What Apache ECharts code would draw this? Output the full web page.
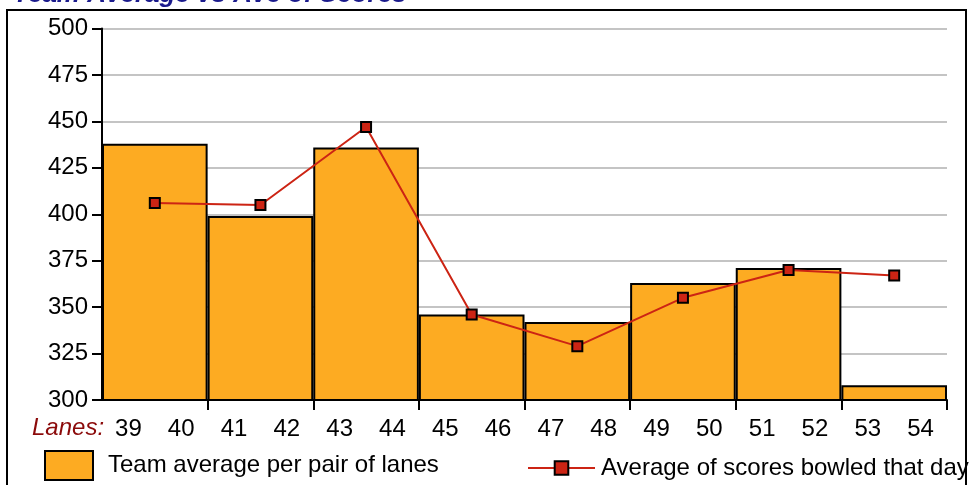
<!DOCTYPE html>
<html>
<head>
<meta charset="utf-8">
<script src="https://cdn.jsdelivr.net/npm/echarts@6/dist/echarts.min.js"></script>
<style>html,body{margin:0;padding:0;background:#fff;}#c{width:969px;height:485px;}</style>
</head>
<body>
<div id="c"></div>
<script>
var pairs = ['39-40','41-42','43-44','45-46','47-48','49-50','51-52','53-54'];
var lanes = ['39','40','41','42','43','44','45','46','47','48','49','50','51','52','53','54'];
var teamAverage = [438, 399, 436, 346, 342, 363, 371, 308];
var dayAverage = [406, 405, 447, 346, 329, 355, 370, 367];
var yTicks = {min: 300, max: 500, step: 25};

var chart = echarts.init(document.getElementById('c'), null, {renderer: 'canvas'});
var font = 'Liberation Sans, Arial, sans-serif';
chart.setOption({
  animation: false,
  title: {
    text: 'Team Average vs Ave of Scores',
    left: 8, top: -23,
    textStyle: {fontFamily: font, fontSize: 26, fontWeight: 'bold', fontStyle: 'italic', color: '#1a1a8c'}
  },
  graphic: [
    {type: 'rect', z: -10, shape: {x: 7, y: 10, width: 959, height: 520}, style: {fill: 'none', stroke: '#000', lineWidth: 2}},
    {type: 'text', left: 32, top: 416, style: {text: 'Lanes:', fontFamily: font, fontSize: 24, fontStyle: 'italic', fill: '#8b0a0a'}}
  ],
  legend: [
    {
      data: [{name: 'Team average per pair of lanes', icon: 'rect'}],
      left: 39, top: 445,
      itemWidth: 48, itemHeight: 29,
      textStyle: {fontFamily: font, fontSize: 24, color: '#000', padding: [0, 0, 0, 10]}
    },
    {
      data: ['Average of scores bowled that day'],
      left: 522, top: 451,
      itemWidth: 67, itemHeight: 17,
      textStyle: {fontFamily: font, fontSize: 24, color: '#000', padding: [0, 0, 0, 1]}
    }
  ],
  grid: {left: 102, right: 22, top: 28.5, bottom: 85},
  xAxis: [
    {
      type: 'category', data: pairs, position: 'bottom',
      axisLine: {show: true, lineStyle: {color: '#000', width: 2}},
      axisTick: {show: true, length: 10, lineStyle: {color: '#000', width: 2}, interval: function (i) { return i !== 0; }},
      axisLabel: {show: false},
      splitLine: {show: false}
    },
    {
      type: 'category', data: lanes, position: 'bottom',
      axisLine: {show: false}, axisTick: {show: false},
      axisLabel: {show: true, interval: 0, margin: 17, fontFamily: font, fontSize: 24, color: '#000'}
    }
  ],
  yAxis: {
    type: 'value', min: yTicks.min, max: yTicks.max, interval: yTicks.step,
    axisLine: {show: true, lineStyle: {color: '#000', width: 2}},
    axisTick: {show: true, length: 10, lineStyle: {color: '#000', width: 2}},
    axisLabel: {margin: 14, fontFamily: font, fontSize: 24, color: '#000'},
    splitLine: {show: true, lineStyle: {color: '#c4c4c4', width: 2}}
  },
  series: [
    {
      name: 'Team average per pair of lanes', type: 'bar', xAxisIndex: 0,
      data: teamAverage, barWidth: '100%', barCategoryGap: 0,
      itemStyle: {color: '#fdab22', borderColor: '#000', borderWidth: 2}
    },
    {
      name: 'Average of scores bowled that day', type: 'line', xAxisIndex: 0,
      data: dayAverage, symbol: 'rect', symbolSize: 10,
      lineStyle: {color: '#cc2414', width: 2},
      itemStyle: {color: '#cc2414', borderColor: '#000', borderWidth: 2}
    }
  ]
});
</script>
</body>
</html>
